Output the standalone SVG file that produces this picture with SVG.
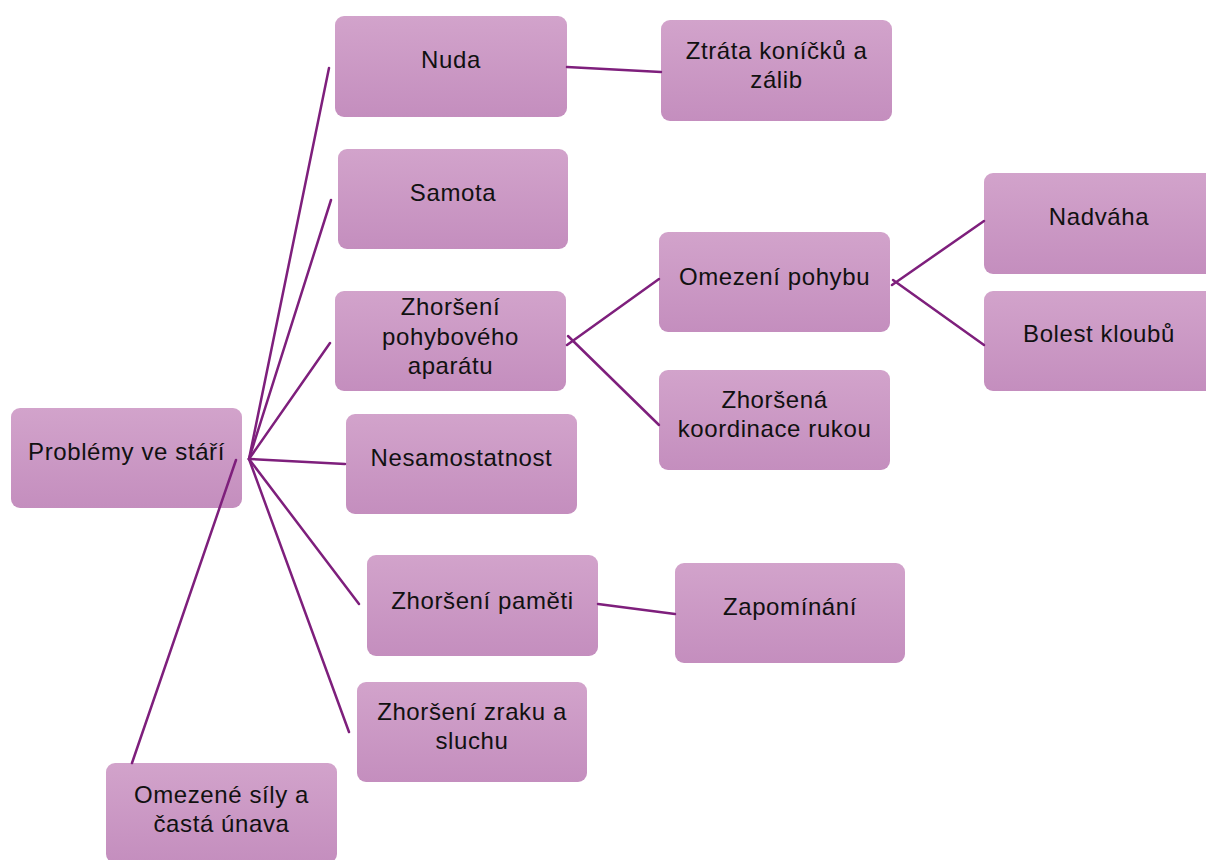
<svg xmlns="http://www.w3.org/2000/svg" width="1206" height="860" viewBox="0 0 1206 860">
<defs>
<linearGradient id="g" x1="0" y1="0" x2="0" y2="1">
<stop offset="0" stop-color="#D2A3CB"/>
<stop offset="1" stop-color="#C48EBE"/>
</linearGradient>
<style>
.b{fill:url(#g);}
.t{font-family:"Liberation Sans",Arial,sans-serif;font-size:24px;letter-spacing:0.6px;fill:#111;text-anchor:middle;}
.c{stroke:#7E1F7C;stroke-width:2.5;fill:none;stroke-linecap:round;}
</style>
</defs>
<rect width="1206" height="860" fill="#fff"/>
<g id="root"><rect class="b" x="11" y="408" width="231" height="100" rx="9"/><text class="t" x="126.5" y="460">Problémy ve stáří</text></g>
<g id="nuda"><rect class="b" x="335" y="16" width="232" height="101" rx="9"/><text class="t" x="451" y="68">Nuda</text></g>
<g id="ztrata"><rect class="b" x="661" y="20" width="231" height="101" rx="9"/><text class="t" x="776.5" y="59">Ztráta koníčků a</text><text class="t" x="776.5" y="88">zálib</text></g>
<g id="samota"><rect class="b" x="338" y="149" width="230" height="100" rx="9"/><text class="t" x="453" y="201">Samota</text></g>
<g id="pohyb"><rect class="b" x="335" y="291" width="231" height="100" rx="9"/><text class="t" x="450.5" y="315">Zhoršení</text><text class="t" x="450.5" y="345">pohybového</text><text class="t" x="450.5" y="374">aparátu</text></g>
<g id="nesamostatnost"><rect class="b" x="346" y="414" width="231" height="100" rx="9"/><text class="t" x="461.5" y="466">Nesamostatnost</text></g>
<g id="pamet"><rect class="b" x="367" y="555" width="231" height="101" rx="9"/><text class="t" x="482.5" y="609">Zhoršení paměti</text></g>
<g id="zapominani"><rect class="b" x="675" y="563" width="230" height="100" rx="9"/><text class="t" x="790" y="615">Zapomínání</text></g>
<g id="zrak"><rect class="b" x="357" y="682" width="230" height="100" rx="9"/><text class="t" x="472" y="720">Zhoršení zraku a</text><text class="t" x="472" y="749">sluchu</text></g>
<g id="sily"><rect class="b" x="106" y="763" width="231" height="100" rx="9"/><text class="t" x="221.5" y="803">Omezené síly a</text><text class="t" x="221.5" y="832">častá únava</text></g>
<g id="omezeni"><rect class="b" x="659" y="232" width="231" height="100" rx="9"/><text class="t" x="774.5" y="285">Omezení pohybu</text></g>
<g id="koordinace"><rect class="b" x="659" y="370" width="231" height="100" rx="9"/><text class="t" x="774.5" y="408">Zhoršená</text><text class="t" x="774.5" y="437">koordinace rukou</text></g>
<g id="nadvaha"><rect class="b" x="984" y="173" width="230" height="101" rx="9"/><text class="t" x="1099" y="225">Nadváha</text></g>
<g id="bolest"><rect class="b" x="984" y="291" width="230" height="100" rx="9"/><text class="t" x="1099" y="342">Bolest kloubů</text></g>
<g id="connectors">
<line class="c" x1="249" y1="459" x2="329" y2="68"/>
<line class="c" x1="249" y1="459" x2="331" y2="200"/>
<line class="c" x1="249" y1="459" x2="330" y2="343"/>
<line class="c" x1="249" y1="459" x2="345" y2="464"/>
<line class="c" x1="249" y1="459" x2="359" y2="604"/>
<line class="c" x1="249" y1="459" x2="349" y2="732"/>
<line class="c" x1="236" y1="460" x2="132" y2="763"/>
<line class="c" x1="567" y1="67" x2="661" y2="72"/>
<line class="c" x1="567" y1="345" x2="659" y2="279"/>
<line class="c" x1="568" y1="336" x2="659" y2="425"/>
<line class="c" x1="892" y1="285" x2="984" y2="221"/>
<line class="c" x1="893" y1="280" x2="984" y2="345"/>
<line class="c" x1="598" y1="604" x2="675" y2="614"/>
</g>
</svg>
